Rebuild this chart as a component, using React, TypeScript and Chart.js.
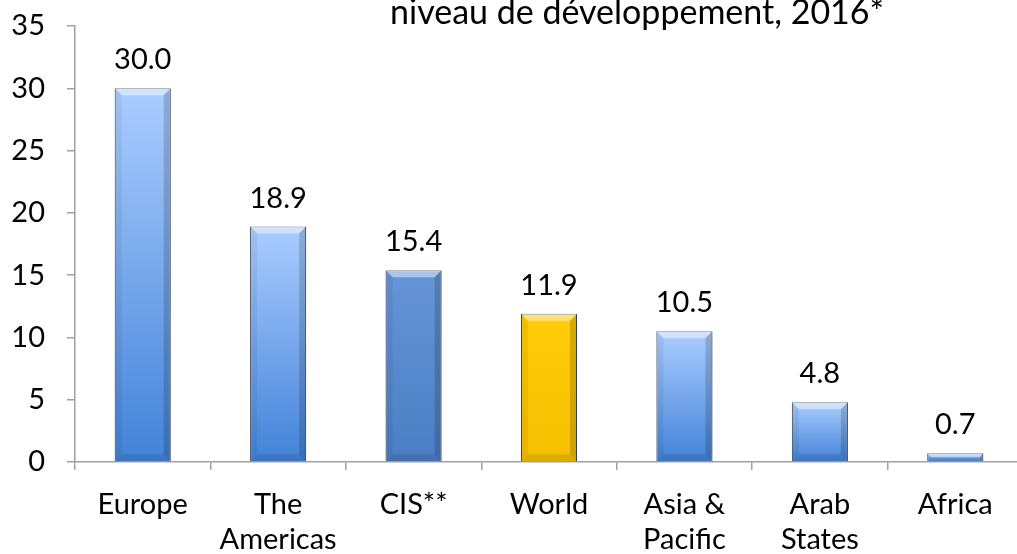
import React, { useEffect, useRef } from "react";
import { Chart, registerables } from "chart.js";
Chart.register(...registerables);

const categories: string[][] = [
  ["Europe"],
  ["The", "Americas"],
  ["CIS**"],
  ["World"],
  ["Asia &", "Pacific"],
  ["Arab", "States"],
  ["Africa"],
];
const values: number[] = [30.0, 18.9, 15.4, 11.9, 10.5, 4.8, 0.7];
const yTicks: number[] = [0, 5, 10, 15, 20, 25, 30, 35];
const titleText = "niveau de développement, 2016*";

const FONT = "Lato, 'Open Sans', sans-serif";
const FONT_SIZE = 29;
const TITLE_SIZE = 34;
const AXIS_COLOR = "#a0a0a0";

const barStops = (i: number): [string, string] => {
  if (i === 2) return ["#6695d8", "#4a7ec4"];
  if (i === 3) return ["#ffcc08", "#f5c000"];
  return ["#abcdff", "#4282d8"];
};

const bevelPlugin = {
  id: "bevel",
  afterDatasetsDraw(chart: any) {
    const ctx = chart.ctx;
    const meta = chart.getDatasetMeta(0);
    meta.data.forEach((el: any) => {
      const { x, y, base, width } = el.getProps(["x", "y", "base", "width"], true);
      const l = x - width / 2;
      const r = x + width / 2;
      const h = base - y;
      const b = Math.min(7, h / 2);
      ctx.save();
      ctx.fillStyle = "rgba(255,255,255,0.45)";
      ctx.beginPath();
      ctx.moveTo(l, y);
      ctx.lineTo(r, y);
      ctx.lineTo(r - b, y + b);
      ctx.lineTo(l + b, y + b);
      ctx.closePath();
      ctx.fill();
      ctx.fillStyle = "rgba(0,0,0,0.16)";
      ctx.beginPath();
      ctx.moveTo(r, y);
      ctx.lineTo(r, base);
      ctx.lineTo(r - b, base - b);
      ctx.lineTo(r - b, y + b);
      ctx.closePath();
      ctx.fill();
      ctx.fillStyle = "rgba(0,0,0,0.06)";
      ctx.beginPath();
      ctx.moveTo(l, y);
      ctx.lineTo(l, base);
      ctx.lineTo(l + b, base - b);
      ctx.lineTo(l + b, y + b);
      ctx.closePath();
      ctx.fill();
      ctx.fillStyle = "rgba(0,0,0,0.10)";
      ctx.beginPath();
      ctx.moveTo(l, base);
      ctx.lineTo(r, base);
      ctx.lineTo(r - b, base - b);
      ctx.lineTo(l + b, base - b);
      ctx.closePath();
      ctx.fill();
      ctx.restore();
    });
  },
};

const labelPlugin = {
  id: "valueLabels",
  afterDatasetsDraw(chart: any) {
    const ctx = chart.ctx;
    const meta = chart.getDatasetMeta(0);
    ctx.save();
    ctx.font = `${FONT_SIZE}px ${FONT}`;
    ctx.fillStyle = "#000";
    ctx.textAlign = "center";
    ctx.textBaseline = "alphabetic";
    meta.data.forEach((el: any, i: number) => {
      const { x, y } = el.getProps(["x", "y"], true);
      ctx.fillText(values[i].toFixed(1), x, y - 19);
    });
    ctx.restore();
  },
};

const titlePlugin = {
  id: "clippedTitle",
  afterDraw(chart: any) {
    const ctx = chart.ctx;
    ctx.save();
    ctx.font = `${TITLE_SIZE}px ${FONT}`;
    ctx.fillStyle = "#000";
    ctx.textAlign = "center";
    ctx.textBaseline = "alphabetic";
    ctx.fillText(titleText, 637, 24);
    ctx.restore();
  },
};

export default function App() {
  const ref = useRef<HTMLCanvasElement | null>(null);
  useEffect(() => {
    if (!ref.current) return;
    const chart = new Chart(ref.current, {
      type: "bar",
      data: {
        labels: categories,
        datasets: [
          {
            data: values,
            backgroundColor: (c: any) => {
              const [top, bot] = barStops(c.dataIndex);
              const ys = c.chart.scales?.y;
              if (!ys || c.raw == null) return bot;
              const y0 = ys.getPixelForValue(c.raw);
              const y1 = ys.getPixelForValue(0);
              if (!isFinite(y0) || !isFinite(y1) || y1 - y0 < 1) return top;
              const g = c.chart.ctx.createLinearGradient(0, y0, 0, y1);
              g.addColorStop(0, top);
              g.addColorStop(1, bot);
              return g;
            },
            borderColor: "rgba(15,30,60,0.85)",
            borderWidth: 1,
            categoryPercentage: 1,
            barPercentage: 0.414,
          },
        ],
      },
      options: {
        animation: false,
        responsive: true,
        maintainAspectRatio: false,
        layout: { padding: { top: 26, right: 1, left: 0, bottom: 0 } },
        plugins: {
          legend: { display: false },
          tooltip: { enabled: false },
          title: { display: false },
        },
        scales: {
          x: {
            grid: {
              display: true,
              drawOnChartArea: false,
              drawTicks: true,
              tickLength: 8,
              color: AXIS_COLOR,
              lineWidth: 1.5,
              offset: true,
            },
            border: { color: AXIS_COLOR, width: 1.5 },
            ticks: {
              color: "#000",
              font: { family: FONT, size: FONT_SIZE, lineHeight: 1.22 },
              padding: 17,
              maxRotation: 0,
              autoSkip: false,
            },
            afterFit: (s: any) => {
              s.height = 92;
              s.paddingLeft = 0;
              s.paddingRight = 0;
            },
          },
          y: {
            min: 0,
            max: 35,
            afterBuildTicks: (s: any) => {
              s.ticks = yTicks.map((v) => ({ value: v }));
            },
            grid: {
              display: true,
              drawOnChartArea: false,
              drawTicks: true,
              tickLength: 8,
              color: AXIS_COLOR,
              lineWidth: 1.5,
            },
            border: { color: AXIS_COLOR, width: 1.5 },
            ticks: {
              color: "#000",
              font: { family: FONT, size: FONT_SIZE },
              padding: 22,
            },
            afterFit: (s: any) => {
              s.width = 75;
              s.paddingTop = 0;
              s.paddingBottom = 0;
            },
          },
        },
      },
      plugins: [bevelPlugin, labelPlugin, titlePlugin],
    });
    return () => chart.destroy();
  }, []);

  return (
    <div
      style={{
        position: "fixed",
        left: 0,
        top: 0,
        width: 1017,
        height: 554,
        overflow: "hidden",
        background: "#fff",
      }}
    >
      <div style={{ position: "relative", width: 1024, height: 554 }}>
        <canvas ref={ref} />
      </div>
    </div>
  );
}
